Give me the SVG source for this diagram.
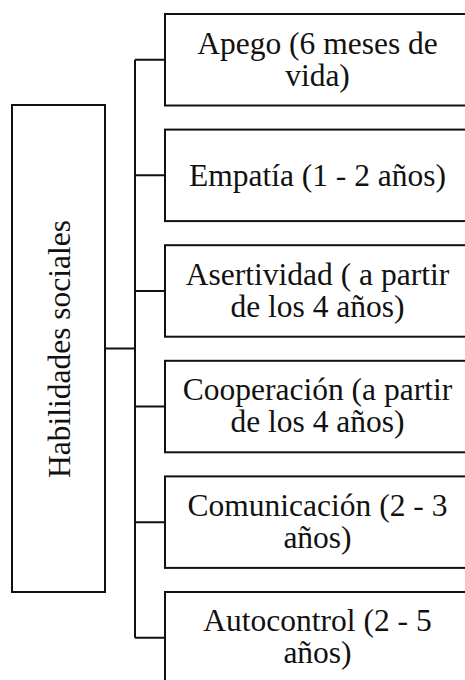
<svg xmlns="http://www.w3.org/2000/svg" width="465" height="680" viewBox="0 0 465 680">
<style>
.box{fill:#fff;stroke:#111;stroke-width:2}
.t{font-family:"Liberation Serif","Times New Roman",serif;font-size:31.5px;fill:#111;text-anchor:middle}
.c{fill:none;stroke:#111;stroke-width:2}
</style>
<rect width="465" height="680" fill="#fff"/>
<g id="connectors">
<path class="c" d="M105 348.5H135M135 59.75V637.75M135 59.75H165M135 175.35H165M135 290.95H165M135 406.55H165M135 522.15H165M135 637.75H165"/>
</g>
<g id="root">
<rect class="box" x="12" y="105" width="93" height="487"/>
<text class="t" transform="translate(69.5,349) rotate(-90)">Habilidades sociales</text>
</g>
<g id="n1">
<rect class="box" x="165" y="14" width="305" height="91.5"/>
<text class="t" x="317.5" y="53.5">Apego (6 meses de</text>
<text class="t" x="317.5" y="85.5">vida)</text>
</g>
<g id="n2">
<rect class="box" x="165" y="129.6" width="305" height="91.5"/>
<text class="t" x="317.5" y="186">Empatía (1 - 2 años)</text>
</g>
<g id="n3">
<rect class="box" x="165" y="245.2" width="305" height="91.5"/>
<text class="t" x="317.5" y="284.5">Asertividad ( a partir</text>
<text class="t" x="317.5" y="316.5">de los 4 años)</text>
</g>
<g id="n4">
<rect class="box" x="165" y="360.8" width="305" height="91.5"/>
<text class="t" x="317.5" y="400">Cooperación (a partir</text>
<text class="t" x="317.5" y="432">de los 4 años)</text>
</g>
<g id="n5">
<rect class="box" x="165" y="476.4" width="305" height="91.5"/>
<text class="t" x="317.5" y="515.5">Comunicación (2 - 3</text>
<text class="t" x="317.5" y="547.5">años)</text>
</g>
<g id="n6">
<rect class="box" x="165" y="592" width="305" height="91.5"/>
<text class="t" x="317.5" y="631">Autocontrol (2 - 5</text>
<text class="t" x="317.5" y="663">años)</text>
</g>
</svg>
